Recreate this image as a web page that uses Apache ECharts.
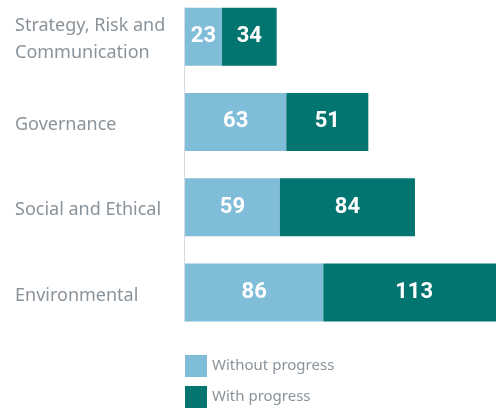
<!DOCTYPE html>
<html><head><meta charset="utf-8">
<script src="https://cdn.jsdelivr.net/npm/echarts@6/dist/echarts.min.js"></script>
<style>html,body{margin:0;padding:0;background:#fff;overflow:hidden;width:496px;height:409px;position:relative}#c{position:absolute;left:0;top:-20px;width:505px;height:429px}</style>
</head><body><div id="c"></div>
<script>
const categories = ["Strategy, Risk and\nCommunication", "Governance", "Social and Ethical", "Environmental"];
const withoutProgress = [23, 63, 59, 86];
const withProgress = [34, 51, 84, 113];
const seriesNames = ["Without progress", "With progress"];

const OFF = 20; // chart div is shifted up by this many pixels
const chart = echarts.init(document.getElementById('c'));
const labelStyle = {show: true, position: 'inside', color: '#fff', fontWeight: 'bold', fontSize: 22, fontFamily: 'Roboto'};
chart.setOption({
  animation: false,
  grid: {left: 185, right: 0, top: OFF - 6, bottom: 74, containLabel: false},
  xAxis: {type: 'value', min: 0, max: 199, show: false},
  yAxis: {type: 'category', data: categories, inverse: true,
    axisLine: {show: false}, axisTick: {show: false},
    axisLabel: {align: 'left', margin: 170,
      formatter: v => v.split('\n').map(s => '{a|' + s + '}').join('\n'),
      rich: {a: {color: '#8a939a', fontSize: 18, fontFamily: 'Noto Sans', lineHeight: 27, padding: [6, 0, 0, 0]}}}},
  legend: {orient: 'vertical', left: 185, top: 355 + OFF, padding: 0, itemWidth: 22, itemHeight: 22, itemGap: 9, icon: 'rect',
    textStyle: {color: '#8a939a', fontSize: 15, fontFamily: 'Noto Sans'}, data: seriesNames},
  series: [
    {name: seriesNames[0], type: 'bar', stack: 'a', data: withoutProgress, barWidth: 58, itemStyle: {color: '#80bdd9'}, label: labelStyle},
    {name: seriesNames[1], type: 'bar', stack: 'a', data: withProgress, barWidth: 58, itemStyle: {color: '#027570'}, label: labelStyle}
  ]
});
const p0 = chart.convertToPixel({xAxisIndex: 0}, 0);
chart.setOption({graphic: [{type: 'line', shape: {x1: p0 - 0.5, y1: 7 + OFF, x2: p0 - 0.5, y2: 322 + OFF}, style: {stroke: '#d5dbe3', lineWidth: 1}}]});
</script></body></html>
